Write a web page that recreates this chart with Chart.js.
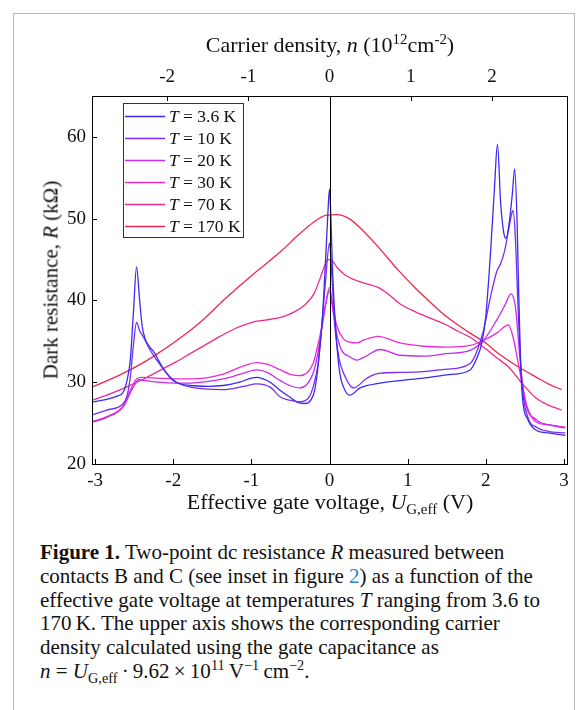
<!DOCTYPE html>
<html>
<head>
<meta charset="utf-8">
<script src="https://cdn.jsdelivr.net/npm/chart.js@4.4.1/dist/chart.umd.min.js"></script>
<style>
  html, body { margin:0; padding:0; background:#fff; }
  body { width:581px; height:710px; position:relative; overflow:hidden; font-family:"Liberation Serif", serif; color:#111; }
  #frame { position:absolute; left:13px; top:13px; width:560px; height:720px; border:1.5px solid #b8b8b8; border-bottom:none; }
  #cv { position:absolute; left:0; top:0; }
  .lbl { position:absolute; white-space:nowrap; font-size:22px; transform:translate(-50%,-50%); }
  .lbl sup, .lbl sub, #caption sup, #caption sub { font-size:0.68em; line-height:0; }
  #ytitle { font-size:21px; transform:translate(-50%,-50%) rotate(-90deg); }
  #caption { position:absolute; left:40px; top:541px; font-size:21px; line-height:23.8px; white-space:nowrap; }
  #caption .ref { color:#2f7fc1; }
</style>
</head>
<body>
<div id="frame"></div>
<canvas id="cv" width="581" height="530"></canvas>
<div class="lbl" style="left:330px;top:45px">Carrier density, <i>n</i> (10<sup>12</sup>cm<sup>-2</sup>)</div>
<div class="lbl" style="left:330px;top:502px">Effective gate voltage, <i>U</i><sub>G,eff</sub> (V)</div>
<div class="lbl" id="ytitle" style="left:51px;top:280px">Dark resistance, <i>R</i> (kΩ)</div>
<div id="caption">
<b>Figure 1.</b> Two-point dc resistance <i>R</i> measured between<br>
contacts B and C (see inset in figure <span class="ref">2</span>) as a function of the<br>
effective gate voltage at temperatures <i>T</i> ranging from 3.6 to<br>
170&#8201;K. The upper axis shows the corresponding carrier<br>
density calculated using the gate capacitance as<br>
<i>n</i>&#8197;=&#8197;<i>U</i><sub>G,eff</sub>&#8201;·&#8201;9.62&#8201;×&#8201;10<sup>11</sup>&#8201;V<sup>−1</sup>&#8201;cm<sup>−2</sup>.
</div>
<script>
// ---------- data ----------
var temps = ["3.6", "10", "20", "30", "70", "170"];

// T = 3.6 K
var u_36 = [-3.03,-2.85,-2.72,-2.64,-2.59,-2.55,-2.51,-2.47,-2.43,-2.40,-2.36,-2.30,-2.24,-2.19,-2.13,-2.05,-1.96,-1.78,-1.55,-1.36,-1.15,-1.0,-0.93,-0.85,-0.76,-0.63,-0.51,-0.40,-0.30,-0.24,-0.19,-0.14,-0.09,-0.05,-0.02,0.0,0.02,0.04,0.09,0.13,0.18,0.26,0.39,0.65,0.9,1.2,1.5,1.8,1.88,1.95,2.0,2.06,2.11,2.15,2.19,2.23,2.26,2.30,2.34,2.37,2.40,2.42,2.46,2.54,2.65,2.8,3.02];
var r_36 = [27.6,27.9,28.3,28.8,30.3,32.7,38.5,44.1,40.0,37.0,35.3,34.3,33.6,32.7,31.7,30.7,30.0,29.6,29.5,29.6,30.0,30.5,30.6,30.4,30.0,29.0,28.2,27.5,27.4,27.8,29.0,32.5,38.0,45.0,50.8,53.6,49.5,43.3,35.1,31.2,29.4,28.4,29.3,29.9,30.2,30.5,30.9,31.5,32.8,34.8,38.0,45.7,53.5,59.1,52.0,48.3,47.6,49.5,53.0,56.1,50.0,41.6,29.4,25.4,24.1,23.8,23.5];

// T = 10 K
var u_10 = [-3.04,-2.85,-2.64,-2.59,-2.55,-2.51,-2.47,-2.43,-2.38,-2.30,-2.21,-2.10,-2.0,-1.78,-1.36,-1.1,-0.93,-0.76,-0.63,-0.51,-0.38,-0.26,-0.21,-0.15,-0.10,-0.05,0.0,0.03,0.07,0.12,0.18,0.31,0.48,0.65,0.9,1.2,1.5,1.8,1.97,2.06,2.14,2.19,2.24,2.29,2.33,2.35,2.38,2.41,2.46,2.54,2.65,2.8,3.02];
var r_10 = [26.0,26.6,27.4,28.4,30.6,34.5,37.3,36.3,35.5,34.0,32.7,31.3,30.2,29.4,29.1,29.5,29.8,29.4,28.2,27.8,27.6,28.2,29.4,32.0,36.7,42.5,47.0,43.0,36.7,33.0,31.1,29.3,30.5,31.1,31.2,31.3,31.6,32.3,36.3,40.4,43.5,44.5,46.0,48.5,50.5,51.0,47.5,40.0,30.2,25.7,24.5,24.0,23.8];

// T = 20 K
var u_20 = [-3.04,-2.85,-2.64,-2.55,-2.50,-2.44,-2.35,-2.2,-2.0,-1.78,-1.36,-1.1,-0.93,-0.8,-0.63,-0.51,-0.38,-0.21,-0.15,-0.10,-0.05,0.0,0.04,0.09,0.15,0.26,0.35,0.45,0.65,0.9,1.2,1.5,1.8,1.97,2.14,2.25,2.32,2.38,2.44,2.50,2.65,2.8,3.02];
var r_20 = [25.1,25.7,27.0,28.7,29.6,30.3,30.2,30.0,29.9,29.9,30.4,31.1,31.5,31.2,30.2,29.6,29.3,31.1,33.5,36.5,39.5,41.2,39.0,36.0,34.0,33.1,32.7,33.1,34.0,33.3,33.2,33.5,33.9,35.1,37.6,39.5,40.8,39.2,32.7,27.8,25.4,24.8,24.4];

// T = 30 K
var u_30 = [-3.04,-2.85,-2.64,-2.55,-2.47,-2.4,-2.2,-2.0,-1.78,-1.36,-1.1,-0.93,-0.8,-0.63,-0.51,-0.38,-0.21,-0.15,-0.10,-0.05,0.0,0.04,0.09,0.18,0.26,0.35,0.45,0.62,0.9,1.2,1.5,1.8,1.97,2.14,2.29,2.35,2.44,2.53,2.65,2.8,3.02];
var r_30 = [25.2,25.8,27.1,29.0,30.4,30.6,30.5,30.4,30.4,31.0,32.0,32.4,32.2,31.5,31.0,30.8,32.3,34.5,36.7,39.5,41.6,39.5,37.0,35.3,34.9,34.8,35.2,35.6,34.8,34.4,34.3,34.5,35.1,36.0,37.0,35.5,31.1,27.0,25.1,24.8,24.5];

// T = 70 K
var u_70 = [-3.04,-2.8,-2.6,-2.4,-2.2,-2.0,-1.8,-1.6,-1.4,-1.2,-1.0,-0.9,-0.75,-0.6,-0.45,-0.3,-0.2,-0.12,-0.06,-0.02,0.03,0.1,0.2,0.3,0.45,0.62,0.75,0.9,1.1,1.3,1.5,1.65,1.8,1.97,2.14,2.3,2.46,2.65,2.8,2.97];
var r_70 = [27.8,28.6,29.4,30.3,31.3,32.3,33.4,34.5,35.6,36.6,37.3,37.5,37.7,38.0,38.6,39.6,40.8,42.7,44.3,45.0,44.9,44.0,43.1,42.6,42.1,41.6,40.8,39.6,38.6,37.8,37.0,36.2,35.5,34.3,33.0,31.8,29.9,28.0,27.2,26.6];

// T = 170 K
var u_170 = [-3.04,-2.7,-2.4,-2.2,-2.0,-1.8,-1.6,-1.36,-1.1,-0.9,-0.6,-0.4,-0.2,-0.05,0.1,0.25,0.4,0.6,0.88,1.1,1.3,1.5,1.8,2.0,2.15,2.3,2.5,2.65,2.8,2.97];
var r_170 = [29.4,30.8,32.3,33.5,34.8,36.2,37.8,40.0,42.2,43.8,46.2,48.0,49.6,50.4,50.5,50.0,48.8,46.8,43.7,41.5,39.7,38.0,36.0,34.8,33.6,32.6,31.4,30.6,29.8,29.1];

var seriesU = [u_36, u_10, u_20, u_30, u_70, u_170];
var seriesR = [r_36, r_10, r_20, r_30, r_70, r_170];

// axis ticks
var uTicks = [-3, -2, -1, 0, 1, 2, 3];
var rTicks = [20, 30, 40, 50, 60];
var nTicks = [-2, -1, 0, 1, 2];
var nPerVolt = 0.962; // 10^12 cm^-2 per volt

// ---------- styles ----------
var lineColors = ["#3b2bf2", "#7c2cf2", "#c52cf0", "#f02ad2", "#f02a8c", "#f0284c"];
var FONT = "'Liberation Serif', serif";

var datasets = temps.map(function(t, i) {
  return {
    label: "T = " + t + " K",
    data: seriesU[i].map(function(u, k) { return { x: u, y: seriesR[i][k] }; }),
    borderColor: lineColors[i],
    borderWidth: 1.3,
    pointRadius: 0,
    fill: false,
    cubicInterpolationMode: "monotone",
  };
});

// black frame, inner ticks and the zero line
var framePlugin = {
  id: "frame",
  afterDatasetsDraw: function(chart) {
    var ctx = chart.ctx, a = chart.chartArea;
    var sx = chart.scales.x, sy = chart.scales.y;
    ctx.save();
    ctx.strokeStyle = "#000";
    ctx.lineWidth = 1;
    ctx.beginPath();
    var x0 = Math.round(sx.getPixelForValue(0)) + 0.5;
    ctx.moveTo(x0, a.top); ctx.lineTo(x0, a.bottom);
    uTicks.forEach(function(v) {
      var p = Math.round(sx.getPixelForValue(v)) + 0.5;
      ctx.moveTo(p, a.bottom); ctx.lineTo(p, a.bottom - 5);
    });
    nTicks.forEach(function(n) {
      var p = Math.round(sx.getPixelForValue(n / nPerVolt)) + 0.5;
      ctx.moveTo(p, a.top); ctx.lineTo(p, a.top + 5);
    });
    rTicks.forEach(function(v) {
      var p = Math.round(sy.getPixelForValue(v)) + 0.5;
      ctx.moveTo(a.left, p); ctx.lineTo(a.left + 5, p);
    });
    ctx.stroke();
    ctx.strokeRect(Math.round(a.left) + 0.5, Math.round(a.top) + 0.5, Math.round(a.right - a.left), Math.round(a.bottom - a.top));
    ctx.restore();
  }
};

// legend box in the upper left corner
var legendPlugin = {
  id: "tlegend",
  afterDraw: function(chart) {
    var ctx = chart.ctx;
    var bx = 123, by = 103, bw = 120, bh = 134;
    ctx.save();
    ctx.fillStyle = "#fff";
    ctx.fillRect(bx, by, bw, bh);
    ctx.strokeStyle = "#333";
    ctx.lineWidth = 1;
    ctx.strokeRect(bx + 0.5, by + 0.5, bw, bh);
    ctx.textBaseline = "middle";
    chart.data.datasets.forEach(function(ds, i) {
      var y = by + 13.5 + i * 22;
      ctx.strokeStyle = ds.borderColor;
      ctx.lineWidth = 1.3;
      ctx.beginPath();
      ctx.moveTo(bx + 2, y); ctx.lineTo(bx + 42, y);
      ctx.stroke();
      ctx.fillStyle = "#111";
      ctx.font = "italic 17.5px " + FONT;
      ctx.fillText("T", bx + 46, y + 1);
      var w = ctx.measureText("T").width;
      ctx.font = "17.5px " + FONT;
      ctx.fillText(" = " + temps[i] + " K", bx + 46 + w, y + 1);
    });
    ctx.restore();
  }
};

var tickFont = { family: FONT, size: 19 };

new Chart(document.getElementById("cv"), {
  type: "line",
  data: { datasets: datasets },
  options: {
    responsive: false,
    animation: false,
    layout: { padding: { left: 0, right: 14, top: 0, bottom: 0 } },
    plugins: { legend: { display: false }, tooltip: { enabled: false } },
    scales: {
      x: {
        type: "linear", position: "bottom", min: -3.04, max: 3.04,
        grid: { display: false, drawTicks: false }, border: { display: false },
        ticks: { font: tickFont, color: "#111", padding: 6, maxRotation: 0, callback: function(v) { return String(v); } },
        afterBuildTicks: function(s) { s.ticks = uTicks.map(function(v) { return { value: v }; }); },
        afterFit: function(s) { s.height = 66; }
      },
      xn: {
        type: "linear", position: "top", min: -3.04, max: 3.04,
        grid: { display: false, drawTicks: false }, border: { display: false },
        ticks: { font: tickFont, color: "#111", padding: 8, maxRotation: 0, callback: function(v, i) { return String(nTicks[i]); } },
        afterBuildTicks: function(s) { s.ticks = nTicks.map(function(n) { return { value: n / nPerVolt }; }); },
        afterFit: function(s) { s.height = 96; }
      },
      y: {
        type: "linear", position: "left", min: 20, max: 65,
        grid: { display: false, drawTicks: false }, border: { display: false },
        ticks: { font: tickFont, color: "#111", padding: 6 },
        afterBuildTicks: function(s) { s.ticks = rTicks.map(function(v) { return { value: v }; }); },
        afterFit: function(s) { s.width = 92; }
      }
    }
  },
  plugins: [framePlugin, legendPlugin]
});
</script>
</body>
</html>
